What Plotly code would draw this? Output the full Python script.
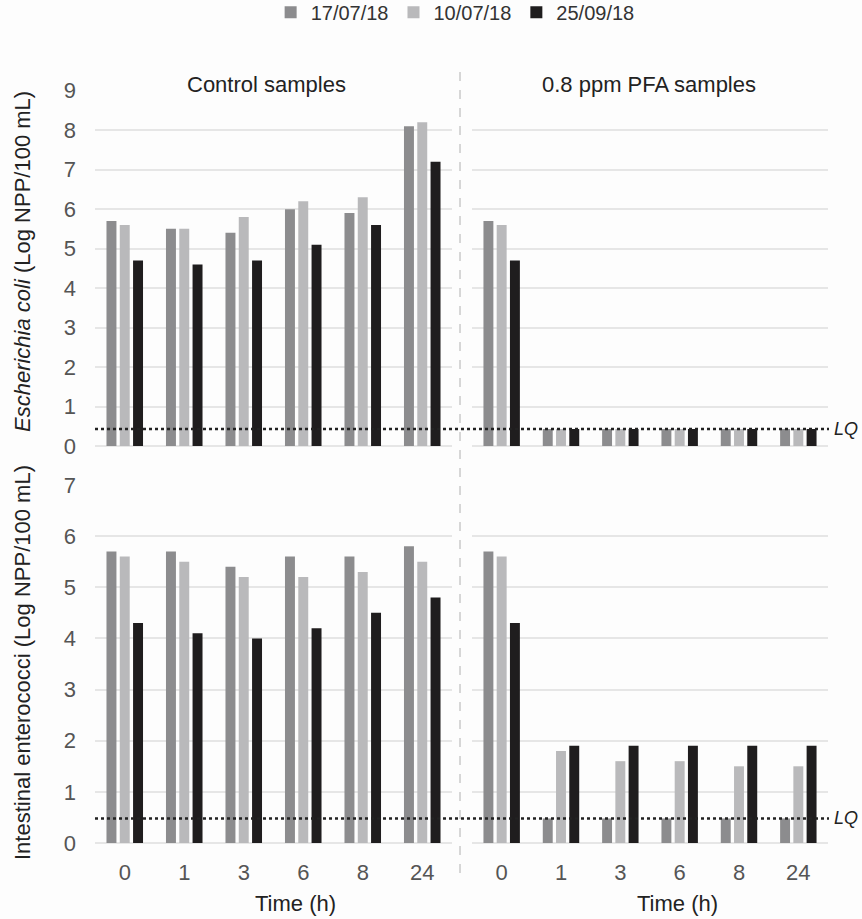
import plotly.graph_objects as go

times = ["0", "1", "3", "6", "8", "24"]
series_names = ["17/07/18", "10/07/18", "25/09/18"]
series_colors = ["#8c8c8e", "#b9b9bb", "#1f1d1e"]

# Escherichia coli (Log NPP/100 mL)
ecoli_control = {
    "17/07/18": [5.7, 5.5, 5.4, 6.0, 5.9, 8.1],
    "10/07/18": [5.6, 5.5, 5.8, 6.2, 6.3, 8.2],
    "25/09/18": [4.7, 4.6, 4.7, 5.1, 5.6, 7.2],
}
ecoli_pfa = {
    "17/07/18": [5.7, 0.43, 0.43, 0.43, 0.43, 0.43],
    "10/07/18": [5.6, 0.43, 0.43, 0.43, 0.43, 0.43],
    "25/09/18": [4.7, 0.43, 0.43, 0.43, 0.43, 0.43],
}
# Intestinal enterococci (Log NPP/100 mL)
ent_control = {
    "17/07/18": [5.7, 5.7, 5.4, 5.6, 5.6, 5.8],
    "10/07/18": [5.6, 5.5, 5.2, 5.2, 5.3, 5.5],
    "25/09/18": [4.3, 4.1, 4.0, 4.2, 4.5, 4.8],
}
ent_pfa = {
    "17/07/18": [5.7, 0.48, 0.48, 0.48, 0.48, 0.48],
    "10/07/18": [5.6, 1.8, 1.6, 1.6, 1.5, 1.5],
    "25/09/18": [4.3, 1.9, 1.9, 1.9, 1.9, 1.9],
}
lq_ecoli = 0.43
lq_ent = 0.48

W, H = 862, 919
FONT = "Liberation Sans, Arial, sans-serif"

def px_x(p):
    return p / W

def px_y(p):
    return 1 - p / H

fig = go.Figure()

panels = [
    (ecoli_control, "x", "y"),
    (ecoli_pfa, "x2", "y2"),
    (ent_control, "x3", "y3"),
    (ent_pfa, "x4", "y4"),
]
for pi, (data, xa, ya) in enumerate(panels):
    for name, color in zip(series_names, series_colors):
        fig.add_trace(go.Bar(
            x=times, y=data[name], name=name,
            marker=dict(color=color, line=dict(width=0)),
            xaxis=xa, yaxis=ya,
            legendgroup=name, showlegend=(pi == 0),
        ))

xl = [px_x(95), px_x(452)]
xr = [px_x(472), px_x(828)]
yt = [px_y(446), px_y(90.7)]
yb = [px_y(843), px_y(485)]

grid = dict(showgrid=True, gridcolor="#e6e6e6", gridwidth=1.5,
            zeroline=True, zerolinecolor="#e6e6e6", zerolinewidth=1.5,
            showline=False, ticks="", dtick=1,
            tickfont=dict(family=FONT, size=22, color="#555555"),
            ticklabelstandoff=18)
xcommon = dict(type="category", showgrid=False, zeroline=False, showline=False,
               ticks="", tickfont=dict(family=FONT, size=22, color="#555555"),
               ticklabelstandoff=14)

fig.update_layout(
    width=W, height=H,
    margin=dict(l=0, r=0, t=0, b=0, autoexpand=False),
    paper_bgcolor="#fdfdfd", plot_bgcolor="#fdfdfd",
    barmode="group", bargap=0.33, bargroupgap=0.25,
    font=dict(family=FONT, color="#222222"),
    xaxis=dict(domain=xl, anchor="y", showticklabels=False, **xcommon),
    xaxis2=dict(domain=xr, anchor="y2", showticklabels=False, **xcommon),
    xaxis3=dict(domain=xl, anchor="y3", **xcommon),
    xaxis4=dict(domain=xr, anchor="y4", **xcommon),
    yaxis=dict(domain=yt, anchor="x", range=[0, 9], **grid),
    yaxis2=dict(domain=yt, anchor="x2", range=[0, 9], showticklabels=False, **grid),
    yaxis3=dict(domain=yb, anchor="x3", range=[0, 7], **grid),
    yaxis4=dict(domain=yb, anchor="x4", range=[0, 7], showticklabels=False, **grid),
    legend=dict(orientation="h", x=0.528, xanchor="center", y=1.008, yanchor="top",
                font=dict(family=FONT, size=20, color="#333333"),
                itemwidth=30, bgcolor="rgba(0,0,0,0)", traceorder="normal"),
)

# vertical separator
fig.add_shape(type="line", xref="paper", yref="paper",
              x0=px_x(460), x1=px_x(460), y0=px_y(873), y1=px_y(63),
              line=dict(color="#b0b0b0", width=1, dash="dash"))

# LQ lines
for lq, yref in [(lq_ecoli, "y"), (lq_ent, "y3")]:
    fig.add_shape(type="line", xref="paper", yref=yref,
                  x0=px_x(95), x1=px_x(829), y0=lq, y1=lq,
                  line=dict(color="#222222", width=2.5, dash="dot"))
    fig.add_annotation(text="<i>LQ</i>", xref="paper", yref=yref,
                       x=px_x(832), y=lq, xanchor="left", yanchor="middle",
                       showarrow=False, font=dict(family=FONT, size=18, color="#222222"))

# panel titles
for txt, cx in [("Control samples", 266), ("0.8 ppm PFA samples", 649)]:
    fig.add_annotation(text=txt, xref="paper", yref="paper",
                       x=px_x(cx), y=px_y(85), xanchor="center", yanchor="middle",
                       showarrow=False, font=dict(family=FONT, size=22, color="#222222"))

# x titles
for cx in [295, 677]:
    fig.add_annotation(text="Time (h)", xref="paper", yref="paper",
                       x=px_x(cx), y=px_y(903), xanchor="center", yanchor="middle",
                       showarrow=False, font=dict(family=FONT, size=22, color="#222222"))

# y titles
for txt, cy in [("<i>Escherichia coli</i> (Log NPP/100 mL)", 262),
                ("Intestinal enterococci (Log NPP/100 mL)", 663)]:
    fig.add_annotation(text=txt, xref="paper", yref="paper", textangle=-90,
                       x=px_x(22), y=px_y(cy), xanchor="center", yanchor="middle",
                       showarrow=False, font=dict(family=FONT, size=22, color="#222222"))

fig.write_html("out.html")
